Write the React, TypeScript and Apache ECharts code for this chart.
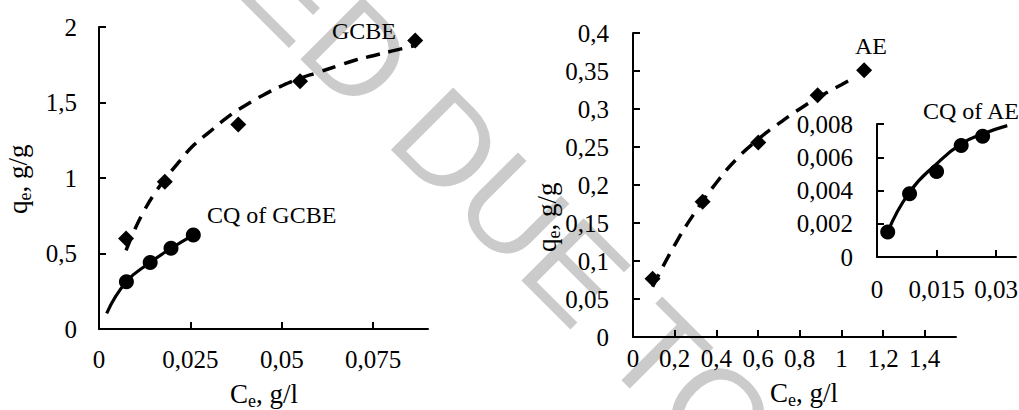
import React, { useEffect, useRef } from 'react';
import * as echarts from 'echarts';

// ---- data ----
// Left chart: GCBE (diamonds, dashed fit) and CQ of GCBE (circles, solid fit)
const gcbeC = [0.0074, 0.018, 0.0381, 0.055, 0.0865];
const gcbeQ = [0.6, 0.975, 1.355, 1.64, 1.91];
const gcbeFitC = [0.0074, 0.01, 0.0125, 0.015, 0.0183, 0.022, 0.026, 0.03, 0.035, 0.04, 0.045, 0.05, 0.055, 0.06, 0.065, 0.07, 0.075, 0.08, 0.087];
const gcbeFitQ = [0.52, 0.67, 0.79, 0.89, 1.0, 1.11, 1.22, 1.3, 1.4, 1.48, 1.55, 1.61, 1.66, 1.7, 1.74, 1.78, 1.81, 1.84, 1.88];
const cqGcbeC = [0.0075, 0.014, 0.0197, 0.0258];
const cqGcbeQ = [0.313, 0.44, 0.534, 0.622];
const cqGcbeFitC = [0.0021, 0.0075, 0.014, 0.0197, 0.0258];
const cqGcbeFitQ = [0.104, 0.313, 0.44, 0.534, 0.622];

// Right chart: AE (diamonds, dashed fit)
const aeC = [0.094, 0.334, 0.601, 0.886, 1.109];
const aeQ = [0.0765, 0.178, 0.256, 0.318, 0.351];
const aeFitC = [0.094, 0.2, 0.3, 0.4, 0.5, 0.6, 0.7, 0.8, 0.9, 1.0, 1.06];
const aeFitQ = [0.066, 0.121, 0.165, 0.203, 0.235, 0.26, 0.281, 0.3, 0.317, 0.332, 0.341];

// Inset: CQ of AE (circles, solid fit)
const cqAeC = [0.0027, 0.0082, 0.015, 0.0212, 0.0266];
const cqAeQ = [0.0015, 0.0038, 0.00515, 0.0067, 0.00727];
const cqAeFitC = [0.0027, 0.0082, 0.015, 0.0212, 0.0266, 0.0328];
const cqAeFitQ = [0.0015, 0.0039, 0.0056, 0.0068, 0.0074, 0.0079];

// tick values
const leftXTicks = [0, 0.025, 0.05, 0.075];
const leftYTicks = [0, 0.5, 1, 1.5, 2];
const rightXTicks = [0, 0.2, 0.4, 0.6, 0.8, 1, 1.2, 1.4];
const rightYTicks = [0, 0.05, 0.1, 0.15, 0.2, 0.25, 0.3, 0.35, 0.4];
const insetXTicks = [0, 0.015, 0.03];
const insetYTicks = [0, 0.002, 0.004, 0.006, 0.008];

// text
const labelGCBE = 'GCBE';
const labelCqGCBE = 'CQ of GCBE';
const labelAE = 'AE';
const labelCqAE = 'CQ of AE';
const watermark = 'ED DUE TO';

const SERIF = "'Liberation Serif', 'Times New Roman', serif";
const pairs = (xs: number[], ys: number[]) => xs.map((x, i) => [x, ys[i]]);
const fmt = (v: number) => String(parseFloat(Number(v).toFixed(6))).replace('.', ',');

function axis(gridIndex: number, min: number, max: number, ticks: number[], margin: number) {
  return {
    type: 'value', gridIndex, min, max,
    axisLine: { show: true, onZero: false, lineStyle: { color: '#000', width: 2 } },
    axisTick: { show: true, inside: true, length: 7, lineStyle: { color: '#000', width: 2 }, customValues: ticks },
    axisLabel: { show: true, margin, color: '#000', fontFamily: SERIF, fontSize: 25, formatter: fmt, customValues: ticks, hideOverlap: false },
    splitLine: { show: false },
  };
}

function txt(text: string, x: number, y: number, size: number) {
  return {
    type: 'text', x, y, z: 100,
    style: {
      text, fill: '#000', font: `${size}px ${SERIF}`,
      align: 'left', verticalAlign: 'middle', textAlign: 'left', textVerticalAlign: 'middle',
    },
  };
}

// axis title with subscript: (x, y) = start of baseline
function title(x: number, y: number, rotation: number, main: string, mainW: number, rest: string) {
  const F = 27;
  const S = 18;
  const c = 0.3375;
  return {
    type: 'group', x, y, rotation, z: 100,
    children: [
      txt(main, 0, -c * F, F),
      txt('e', mainW * F, 4 - c * S, S),
      txt(rest, mainW * F + 0.444 * S, -c * F, F),
    ],
  };
}

export default function App() {
  const ref = useRef<HTMLDivElement>(null);
  useEffect(() => {
    if (!ref.current) return;
    const chart = echarts.init(ref.current, undefined, { renderer: 'svg' });
    const dashed = { color: '#000', width: 3.5, type: [14, 9] };
    const solid = { color: '#000', width: 3.2, type: 'solid' };
    const mark = { color: '#000', opacity: 1 };
    const option: any = {
      animation: false,
      backgroundColor: '#fff',
      grid: [
        { left: 99, top: 27, width: 329, height: 302, outerBoundsMode: 'none' },
        { left: 633, top: 33, width: 323, height: 304, outerBoundsMode: 'none' },
        { left: 877, top: 124, width: 139, height: 133, outerBoundsMode: 'none' },
      ],
      xAxis: [
        axis(0, 0, 0.09, leftXTicks, 18),
        axis(1, 0, 1.55, rightXTicks, 9),
        axis(2, 0, 0.035, insetXTicks, 20),
      ],
      yAxis: [
        axis(0, 0, 2, leftYTicks, 22),
        axis(1, 0, 0.4, rightYTicks, 24),
        axis(2, 0, 0.008, insetYTicks, 24),
      ],
      series: [
        { type: 'line', xAxisIndex: 0, yAxisIndex: 0, data: pairs(gcbeFitC, gcbeFitQ), smooth: true, showSymbol: false, symbol: 'none', lineStyle: dashed, z: 2 },
        { type: 'scatter', xAxisIndex: 0, yAxisIndex: 0, data: pairs(gcbeC, gcbeQ), symbol: 'diamond', symbolSize: 16, itemStyle: mark, z: 3 },
        { type: 'line', xAxisIndex: 0, yAxisIndex: 0, data: pairs(cqGcbeFitC, cqGcbeFitQ), smooth: true, showSymbol: false, symbol: 'none', lineStyle: solid, z: 2 },
        { type: 'scatter', xAxisIndex: 0, yAxisIndex: 0, data: pairs(cqGcbeC, cqGcbeQ), symbol: 'circle', symbolSize: 15, itemStyle: mark, z: 3 },
        { type: 'line', xAxisIndex: 1, yAxisIndex: 1, data: pairs(aeFitC, aeFitQ), smooth: true, showSymbol: false, symbol: 'none', lineStyle: dashed, z: 2 },
        { type: 'scatter', xAxisIndex: 1, yAxisIndex: 1, data: pairs(aeC, aeQ), symbol: 'diamond', symbolSize: 16, itemStyle: mark, z: 3 },
        { type: 'line', xAxisIndex: 2, yAxisIndex: 2, data: pairs(cqAeFitC, cqAeFitQ), smooth: true, showSymbol: false, symbol: 'none', lineStyle: solid, z: 2 },
        { type: 'scatter', xAxisIndex: 2, yAxisIndex: 2, data: pairs(cqAeC, cqAeQ), symbol: 'circle', symbolSize: 15, itemStyle: mark, z: 3 },
      ],
      graphic: [
        {
          type: 'text', x: 264, y: -40, rotation: -Math.PI / 4, z: -10, silent: true,
          style: {
            text: watermark, fill: '#cbcbcb', font: "128px 'Liberation Sans', Arial, sans-serif",
            align: 'left', verticalAlign: 'middle', textAlign: 'left', textVerticalAlign: 'middle',
          },
        },
        txt(labelGCBE, 332, 30.5, 24),
        txt(labelCqGCBE, 207, 215, 24),
        txt(labelAE, 855, 45.5, 24),
        txt(labelCqAE, 923, 111, 24),
        title(230, 403, 0, 'C', 0.667, ', g/l'),
        title(770, 402, 0, 'C', 0.667, ', g/l'),
        title(27, 214, Math.PI / 2, 'q', 0.5, ', g/g'),
        title(556, 252, Math.PI / 2, 'q', 0.5, ', g/g'),
      ],
    };
    chart.setOption(option);
    return () => chart.dispose();
  }, []);
  return <div ref={ref} style={{ position: 'absolute', left: 0, top: 0, width: 1019, height: 410 }} />;
}
